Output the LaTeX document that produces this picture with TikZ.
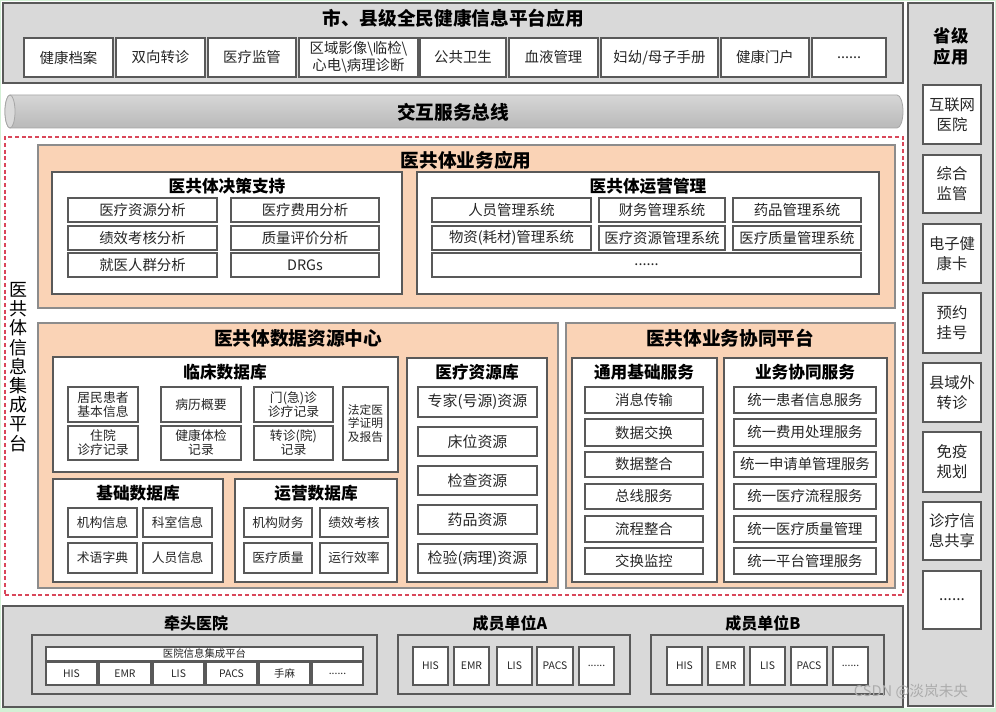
\documentclass[tikz,border=0pt]{standalone}
\usepackage{fontspec}
\setmainfont{Noto Sans CJK SC}
\definecolor{gfill}{HTML}{D9D9D9}
\definecolor{gline}{HTML}{595959}
\definecolor{peach}{HTML}{FAD3B6}
\definecolor{pline}{HTML}{8C8C8C}
\definecolor{iline}{HTML}{595959}
\definecolor{dred}{HTML}{D9475A}
\definecolor{frameg}{HTML}{D3F0D5}
\definecolor{txt}{HTML}{262626}
\definecolor{busA}{HTML}{D6D6D6}
\definecolor{busB}{HTML}{B9B9B9}
\definecolor{busC}{HTML}{DADADA}
\definecolor{busL}{HTML}{A6A6A6}
\newcommand\bx[7]{%
  \pgfmathsetmacro\bxw{(#4-#2)*0.75}%
  \pgfmathsetmacro\bxh{(#5-#3)*0.75}%
  \node[#6, anchor=north west, outer sep=0pt, minimum width=\bxw pt, minimum height=\bxh pt] (#1) at (#2,#3) {#7};}
\begin{document}
\begin{tikzpicture}[x=0.75pt,y=-0.75pt,
  gbox/.style={draw=gline, fill=gfill, line width=0.8pt, inner sep=0pt},
  pbox/.style={draw=pline, fill=peach, line width=0.8pt, inner sep=0pt},
  wpanel/.style={draw=gline, fill=white, line width=0.8pt, inner sep=0pt},
  dashbox/.style={draw=dred, dash pattern=on 3pt off 2pt, line width=0.8pt, inner sep=0pt},
  item/.style={draw=iline, fill=white, line width=1.1pt, align=center, inner sep=1pt, text=txt, font=\fontsize{10.8}{12.8}\selectfont},
  citem/.style={item, font=\fontsize{9.6}{10.5}\selectfont},
  litem/.style={item, font=\fontsize{8.8}{10}\selectfont},
  ritem/.style={item, font=\fontsize{11.2}{13}\selectfont},
  pitem/.style={item, font=\fontsize{11.5}{15}\selectfont},
  sitem/.style={item, line width=0.8pt, font=\fontsize{7.8}{9}\selectfont},
  bigtitle/.style={font=\bfseries\fontsize{14}{16}\selectfont, inner sep=0pt, text=black},
  subtitle/.style={font=\bfseries\fontsize{12.5}{14}\selectfont, inner sep=0pt, text=black},
  vtext/.style={font=\fontsize{13.5}{14.4}\selectfont, align=center, inner sep=0pt, text=black}
]
% background and frame
\fill[frameg] (0,0) rectangle (996,712);
\fill[white] (1,1.5) rectangle (995,708);
\useasboundingbox (0,0) rectangle (996,712);

% top platform
\bx{top}{3}{3}{903}{83}{gbox}{}
\node[bigtitle] (toptitle) at (453,18) {市、县级全民健康信息平台应用};
\bx{t1}{24}{38}{113}{77}{item}{健康档案}
\bx{t2}{116}{38}{205}{77}{item}{双向转诊}
\bx{t3}{208}{38}{296}{77}{item}{医疗监管}
\bx{t4}{299}{38}{418}{77}{item}{区域影像\textbackslash 临检\textbackslash\\心电\textbackslash 病理诊断}
\bx{t5}{420}{38}{506}{77}{item}{公共卫生}
\bx{t6}{509}{38}{598}{77}{item}{血液管理}
\bx{t7}{601}{38}{718}{77}{item}{妇幼/母子手册}
\bx{t8}{721}{38}{809}{77}{item}{健康门户}
\bx{t9}{812}{38}{886}{77}{item}{......}

% bus
\shade[top color=busA, bottom color=busB, draw=busL, line width=0.6pt]
  (10,95) -- (897,95) arc[start angle=-90,end angle=90,x radius=6,y radius=16.5]
  -- (10,128) arc[start angle=90,end angle=270,x radius=5,y radius=16.5] -- cycle;
\draw[fill=busC, draw=busL, line width=0.6pt] (10,111.5) ellipse[x radius=5,y radius=16.5];
\node[bigtitle] (bus) at (453,112) {交互服务总线};

% dashed integration platform
\bx{integ}{5}{137}{903}{595}{dashbox}{}
\node[vtext] (vt) at (18,367) {医\\共\\体\\信\\息\\集\\成\\平\\台};

% business applications
\bx{bizapp}{38}{145}{895}{308}{pbox}{}
\node[bigtitle] (bizappT) at (466,160) {医共体业务应用};
\bx{dec}{52}{172}{402}{294}{wpanel}{}
\node[subtitle] (decT) at (227,186) {医共体决策支持};
\bx{d1}{68}{198}{217}{222}{item}{医疗资源分析}
\bx{d2}{231}{198}{379}{222}{item}{医疗费用分析}
\bx{d3}{68}{226}{217}{250}{item}{绩效考核分析}
\bx{d4}{231}{226}{379}{250}{item}{质量评价分析}
\bx{d5}{68}{253}{217}{277}{item}{就医人群分析}
\bx{d6}{231}{253}{379}{277}{item}{DRGs}
\bx{ops}{417}{172}{879}{294}{wpanel}{}
\node[subtitle] (opsT) at (648,186) {医共体运营管理};
\bx{o1}{432}{198}{591}{222}{item}{人员管理系统}
\bx{o2}{599}{198}{725}{222}{item}{财务管理系统}
\bx{o3}{733}{198}{861}{222}{item}{药品管理系统}
\bx{o4}{432}{226}{591}{250}{item}{物资(耗材)管理系统}
\bx{o5}{599}{226}{725}{250}{item}{医疗资源管理系统}
\bx{o6}{733}{226}{861}{250}{item}{医疗质量管理系统}
\bx{o7}{432}{253}{861}{277}{item}{......}

% data resource center
\bx{drc}{38}{323}{558}{588}{pbox}{}
\node[bigtitle] (drcT) at (298,338) {医共体数据资源中心};
\bx{clin}{53}{357}{398}{472}{wpanel}{}
\node[subtitle] (clinT) at (225,372) {临床数据库};
\bx{c1}{68}{387}{138}{422}{citem}{居民患者\\基本信息}
\bx{c2}{161}{387}{241}{422}{citem}{病历概要}
\bx{c3}{254}{387}{333}{422}{citem}{门(急)诊\\诊疗记录}
\bx{c4}{68}{426}{138}{460}{citem}{住院\\诊疗记录}
\bx{c5}{161}{426}{241}{460}{citem}{健康体检\\记录}
\bx{c6}{254}{426}{333}{460}{citem}{转诊(院)\\记录}
\bx{c7}{343}{387}{388}{460}{litem}{法定医\\学证明\\及报告}
\bx{base}{53}{479}{223}{582}{wpanel}{}
\node[subtitle] (baseT) at (138,493) {基础数据库};
\bx{b1}{68}{508}{137}{537}{citem}{机构信息}
\bx{b2}{143}{508}{212}{537}{citem}{科室信息}
\bx{b3}{68}{543}{137}{573}{citem}{术语字典}
\bx{b4}{143}{543}{212}{573}{citem}{人员信息}
\bx{opdb}{235}{479}{397}{582}{wpanel}{}
\node[subtitle] (opdbT) at (316,493) {运营数据库};
\bx{p1}{244}{508}{312}{537}{citem}{机构财务}
\bx{p2}{320}{508}{388}{537}{citem}{绩效考核}
\bx{p3}{244}{543}{312}{573}{citem}{医疗质量}
\bx{p4}{320}{543}{388}{573}{citem}{运行效率}
\bx{res}{407}{358}{547}{582}{wpanel}{}
\node[subtitle] (resT) at (477,372) {医疗资源库};
\bx{m1}{418}{387}{537}{417}{ritem}{专家(号源)资源}
\bx{m2}{418}{427}{537}{456}{ritem}{床位资源}
\bx{m3}{418}{466}{537}{495}{ritem}{检查资源}
\bx{m4}{418}{505}{537}{534}{ritem}{药品资源}
\bx{m5}{418}{544}{537}{573}{ritem}{检验(病理)资源}

% collaboration platform
\bx{collab}{566}{323}{895}{588}{pbox}{}
\node[bigtitle] (collabT) at (730,338) {医共体业务协同平台};
\bx{gen}{572}{358}{717}{582}{wpanel}{}
\node[subtitle] (genT) at (644,372) {通用基础服务};
\bx{g1}{585}{387}{703}{413}{item}{消息传输}
\bx{g2}{585}{419}{703}{446}{item}{数据交换}
\bx{g3}{585}{452}{703}{477}{item}{数据整合}
\bx{g4}{585}{484}{703}{509}{item}{总线服务}
\bx{g5}{585}{516}{703}{542}{item}{流程整合}
\bx{g6}{585}{548}{703}{574}{item}{交换监控}
\bx{srv}{724}{358}{887}{582}{wpanel}{}
\node[subtitle] (srvT) at (805,372) {业务协同服务};
\bx{s1}{734}{387}{876}{413}{item}{统一患者信息服务}
\bx{s2}{734}{419}{876}{446}{item}{统一费用处理服务}
\bx{s3}{734}{452}{876}{477}{item}{统一申请单管理服务}
\bx{s4}{734}{484}{876}{509}{item}{统一医疗流程服务}
\bx{s5}{734}{516}{876}{542}{item}{统一医疗质量管理}
\bx{s6}{734}{548}{876}{574}{item}{统一平台管理服务}

% provincial applications
\bx{prov}{908}{3}{993}{706}{gbox}{}
\node[bigtitle, align=center, font=\bfseries\fontsize{13}{15.75}\selectfont] (provT) at (951,46.5) {省级\\应用};
\bx{r1}{923}{85}{981}{144}{pitem}{互联网\\医院}
\bx{r2}{923}{155}{981}{213}{pitem}{综合\\监管}
\bx{r3}{923}{224}{981}{283}{pitem}{电子健\\康卡}
\bx{r4}{923}{293}{981}{353}{pitem}{预约\\挂号}
\bx{r5}{923}{363}{981}{422}{pitem}{县域外\\转诊}
\bx{r6}{923}{432}{981}{492}{pitem}{免疫\\规划}
\bx{r7}{923}{502}{981}{560}{pitem}{诊疗信\\息共享}
\bx{r8}{923}{571}{981}{629}{pitem}{......}

% hospitals
\bx{hosp}{3}{606}{903}{707}{gbox}{}
\node[subtitle, font=\bfseries\fontsize{12}{14}\selectfont] (leadT) at (196,623) {牵头医院};
\bx{lead}{32}{635}{377}{694}{gbox}{}
\bx{bar}{46}{647}{363}{661}{sitem}{医院信息集成平台}
\bx{h1}{46}{662}{97}{685}{sitem}{HIS}
\bx{h2}{99}{662}{151}{685}{sitem}{EMR}
\bx{h3}{153}{662}{204}{685}{sitem}{LIS}
\bx{h4}{206}{662}{257}{685}{sitem}{PACS}
\bx{h5}{259}{662}{310}{685}{sitem}{手麻}
\bx{h6}{312}{662}{363}{685}{sitem}{......}
\node[subtitle, font=\bfseries\fontsize{12}{14}\selectfont] (memAT) at (510,623) {成员单位A};
\bx{memA}{398}{635}{630}{694}{gbox}{}
\bx{a1}{413}{647}{448}{685}{sitem}{HIS}
\bx{a2}{454}{647}{489}{685}{sitem}{EMR}
\bx{a3}{497}{647}{532}{685}{sitem}{LIS}
\bx{a4}{537}{647}{573}{685}{sitem}{PACS}
\bx{a5}{579}{647}{614}{685}{sitem}{......}
\node[subtitle, font=\bfseries\fontsize{12}{14}\selectfont] (memBT) at (763,623) {成员单位B};
\bx{memB}{651}{635}{884}{694}{gbox}{}
\bx{e1}{667}{647}{702}{685}{sitem}{HIS}
\bx{e2}{708}{647}{744}{685}{sitem}{EMR}
\bx{e3}{750}{647}{785}{685}{sitem}{LIS}
\bx{e4}{791}{647}{827}{685}{sitem}{PACS}
\bx{e5}{833}{647}{868}{685}{sitem}{......}

% watermark
\node[font=\fontsize{11}{13}\selectfont, text=gray!65, inner sep=0pt] (wm) at (911,692) {CSDN @淡岚未央};
\end{tikzpicture}
\end{document}
